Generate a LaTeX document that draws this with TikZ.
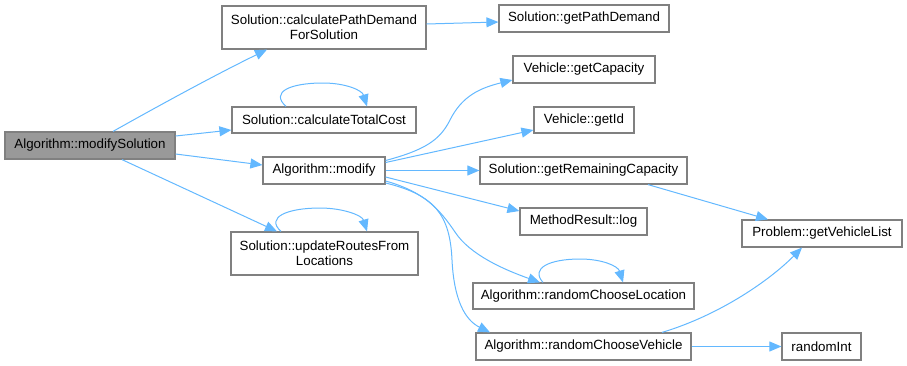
\documentclass[tikz,border=0pt]{standalone}
\usepackage{fontspec}
\setmainfont{Liberation Sans}
\usetikzlibrary{arrows.meta}
\definecolor{edgeblue}{HTML}{63B8FF}
\definecolor{boxline}{HTML}{808080}
\definecolor{rootfill}{HTML}{999999}
\begin{document}
\begin{tikzpicture}[x=0.75pt,y=-0.75pt,
  fn/.style={draw=boxline,line width=0.9pt,fill=white,inner sep=0pt,font=\fontsize{10pt}{11.5pt}\selectfont,align=center},
  rootfn/.style={fn,fill=rootfill},
  edge/.style={draw=edgeblue,line width=0.75pt,-{Triangle[length=9pt,width=7.5pt]}}]
\useasboundingbox (0,0) rectangle (907,365);

% functions
\node[rootfn,minimum width=127.5pt,minimum height=20.25pt] (modSol) at (90,145.5) {Algorithm::modifySolution};
\node[fn,minimum width=153pt,minimum height=32.25pt] (pathDem) at (324,27.5) {Solution::calculatePathDemand\\ForSolution};
\node[fn,minimum width=138pt,minimum height=19.5pt] (totCost) at (324,120) {Solution::calculateTotalCost};
\node[fn,minimum width=91.5pt,minimum height=20.25pt] (modify) at (324,170.5) {Algorithm::modify};
\node[fn,minimum width=140.25pt,minimum height=32.25pt] (updRoutes) at (324.5,253.5) {Solution::updateRoutesFrom\\Locations};
\node[fn,minimum width=127.5pt,minimum height=20.25pt] (getPathDemand) at (584,18.5) {Solution::getPathDemand};
\node[fn,minimum width=106.5pt,minimum height=20.25pt] (getCapacity) at (584,69.5) {Vehicle::getCapacity};
\node[fn,minimum width=75pt,minimum height=19.5pt] (getId) at (584,120) {Vehicle::getId};
\node[fn,minimum width=155.25pt,minimum height=20.25pt] (getRemCap) at (583.5,170.5) {Solution::getRemainingCapacity};
\node[fn,minimum width=95.25pt,minimum height=20.25pt] (log) at (583.5,221.5) {MethodResult::log};
\node[fn,minimum width=165.75pt,minimum height=19.5pt] (rcLoc) at (583.5,296) {Algorithm::randomChooseLocation};
\node[fn,minimum width=161.25pt,minimum height=20.25pt] (rcVeh) at (583.5,346.5) {Algorithm::randomChooseVehicle};
\node[fn,minimum width=120pt,minimum height=20.25pt] (getVehList) at (822,233.5) {Problem::getVehicleList};
\node[fn,minimum width=59.25pt,minimum height=20.25pt] (randomInt) at (821.5,346.5) {randomInt};

% calls from modifySolution
\draw[edge] ([shift={(23,0)}]modSol.north) .. controls (160,105) and (215,75) .. ([shift={(-57,0)}]pathDem.south);
\draw[edge] ([shift={(0,-9.5)}]modSol.east) -- ([shift={(0,10)}]totCost.west);
\draw[edge] ([shift={(0,8.5)}]modSol.east) -- ([shift={(0,-5.5)}]modify.west);
\draw[edge] ([shift={(32,0)}]modSol.south) -- ([shift={(-47.5,0)}]updRoutes.north);

% recursive calls
\draw[edge] ([shift={(-38,0)}]totCost.north) .. controls (270,92) and (290,83) .. (323,83) .. controls (345,83) and (362,90) .. ([shift={(43,0)}]totCost.north);
\draw[edge] ([shift={(-43.5,0)}]updRoutes.north) .. controls (265,217) and (288,208) .. (320,208) .. controls (342,208) and (362,215) .. ([shift={(42.5,0)}]updRoutes.north);
\draw[edge] ([shift={(-40.5,0)}]rcLoc.north) .. controls (530,268) and (550,259) .. (580,259) .. controls (602,259) and (618,266) .. ([shift={(39.5,0)}]rcLoc.north);

% calculatePathDemandForSolution
\draw[edge] ([shift={(0,-3.5)}]pathDem.east) -- ([shift={(0,3.5)}]getPathDemand.west);

% calls from modify
\draw[edge] ([shift={(0,-10)}]modify.east) .. controls (425,150) and (440,140) .. (450,120) .. controls (462,96) and (480,88) .. ([shift={(0,10.5)}]getCapacity.west);
\draw[edge] ([shift={(0,-8)}]modify.east) -- ([shift={(0,10)}]getId.west);
\draw[edge] (modify.east) -- (getRemCap.west);
\draw[edge] ([shift={(0,6.5)}]modify.east) -- ([shift={(0,-10.5)}]log.west);
\draw[edge] ([shift={(0,10.5)}]modify.east) .. controls (425,192) and (440,210) .. (455,232) .. controls (470,255) and (505,270) .. ([shift={(-43.5,0)}]rcLoc.north);
\draw[edge] ([shift={(0,12.5)}]modify.east) .. controls (435,195) and (450,215) .. (452,260) .. controls (454,300) and (465,320) .. ([shift={(-93.5,0)}]rcVeh.north);

% further calls
\draw[edge] ([shift={(64.5,0)}]getRemCap.south) -- ([shift={(-54,0)}]getVehList.north);
\draw[edge] ([shift={(78.5,0)}]rcVeh.north) .. controls (720,315) and (770,280) .. ([shift={(-20,0)}]getVehList.south);
\draw[edge] (rcVeh.east) -- (randomInt.west);
\end{tikzpicture}
\end{document}
